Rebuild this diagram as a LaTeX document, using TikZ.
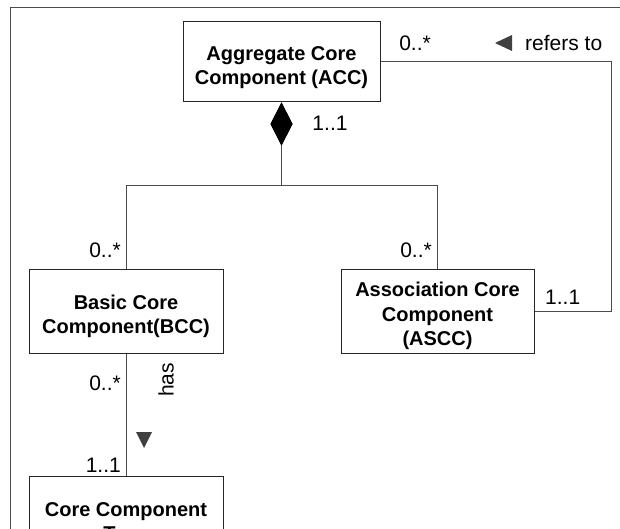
\documentclass[tikz,border=0pt]{standalone}
\usepackage{fontspec}
\setmainfont{Liberation Sans}
\usetikzlibrary{arrows.meta}
\newcommand{\boxstrut}{\rule{0pt}{25pt}}
\tikzset{class node/.style={draw=black!85,line width=1pt,fill=white,minimum width=194pt,minimum height=84pt,inner sep=0pt,align=center,font=\bfseries\fontsize{20}{24.5}\selectfont},
  mult/.style={inner sep=0pt,font=\fontsize{21}{25}\selectfont},
  link/.style={draw=black!70,line width=1pt},
  navtip/.style={fill=black!75},}

\begin{document}
\begin{tikzpicture}[x=1pt,y=-1pt]
    \useasboundingbox (0,0) rectangle (620,529);
    \clip (0,0) rectangle (620,529);
    % frame
    \draw[link] (10.5,560) -- (10.5,7.5) -- (650,7.5);

    \node[class node,minimum width=197pt,minimum height=80pt] (acc) at (281.5,62) {\boxstrut Aggregate Core\\Component (ACC)};
    \node[class node] (bcc) at (126,311) {\boxstrut Basic Core\\Component(BCC)};
    \node[class node,minimum width=193pt] (ascc) at (437.5,311) {\boxstrut Association Core\\Component\\(ASCC)};
    \node[class node] (cct) at (126,518) {\boxstrut Core Component\\Type};

    \coordinate (fork) at (281.5,185.5);
    \coordinate (refx) at (611.5,0);

    \path[link,{Diamond[length=43pt,width=22pt,color=black]}-]
    (acc.south) edge node {} (fork)
    ;
    \draw[link] (bcc.north) |- (fork) -| (ascc.north);
    \draw[link] (acc.east) -| (refx |- ascc.east) -- (ascc.east);
    \path[link]
    (bcc) edge node {} (cct)
    ;

    % multiplicities and role names
    \node[mult,anchor=east] (accmult) at (431,43) {0..*};
    \node[mult,anchor=west] (refers) at (525,43) {refers to};
    \fill[navtip] (512,35) -- (512,51) -- (495,43) -- cycle;
    \node[mult] (compmult) at (330,123) {1..1};
    \node[mult,anchor=east] (bccmult) at (121,250) {0..*};
    \node[mult,anchor=east] (asccmult) at (432,250) {0..*};
    \node[mult,anchor=west] (refmult) at (545,297) {1..1};
    \node[mult,anchor=east] (hasmult) at (121,383) {0..*};
    \node[mult,rotate=90] (has) at (166,380) {has};
    \fill[navtip] (136,432) -- (152,432) -- (144,448) -- cycle;
    \node[mult,anchor=east] (typemult) at (121,465) {1..1};
\end{tikzpicture}
\end{document}
